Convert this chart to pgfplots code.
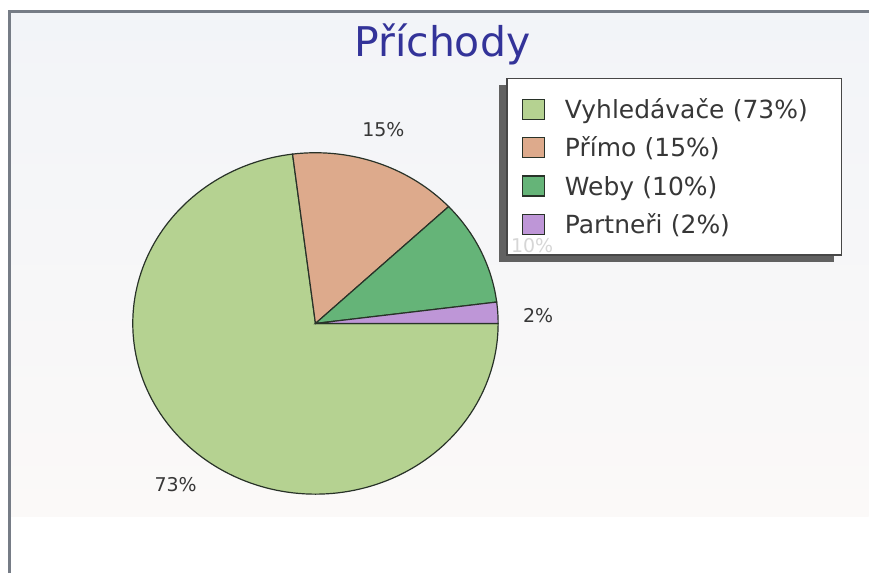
\documentclass[border=0pt]{standalone}
\usepackage{fontspec}
\setmainfont{DejaVu Sans}
\usepackage{pgfplots}
\pgfplotsset{compat=1.18}
\definecolor{cVy}{RGB}{181,210,145}
\definecolor{cPr}{RGB}{221,170,140}
\definecolor{cWe}{RGB}{101,180,120}
\definecolor{cPa}{RGB}{190,150,215}
\definecolor{edge}{RGB}{40,50,40}
\definecolor{titleblue}{RGB}{51,51,153}
\definecolor{frameC}{RGB}{118,124,134}
\definecolor{bgTop}{RGB}{242,244,248}
\definecolor{bgMid}{RGB}{247,247,247}
\definecolor{bgBot}{RGB}{251,249,248}
\definecolor{txt}{RGB}{55,55,55}
\begin{document}
\begin{tikzpicture}
% slice values (percent)
\def\vA{73}\def\vB{15}\def\vC{10}\def\vD{2}
\pgfmathsetmacro{\aD}{3.6*\vD}
\pgfmathsetmacro{\aC}{\aD+3.6*\vC}
\pgfmathsetmacro{\aB}{\aC+3.6*\vB}
\begin{axis}[
  width=870bp, height=574bp, scale only axis,
  xmin=0, xmax=870, ymin=0, ymax=574, y dir=reverse,
  hide axis, clip=false,
  legend image code/.code={\draw[#1] (0bp,-10bp) rectangle (22bp,10bp);},
  legend cell align=left,
  legend style={at={(axis cs:507,78)}, anchor=north west,
    draw=black!72, line width=1.5bp, fill=white,
    inner xsep=15bp, inner ysep=20bp, row sep=16.3bp, column sep=20bp,
    font=\fontsize{25bp}{30bp}\selectfont, text=txt,
    nodes={inner sep=0bp, text height=20bp, text depth=2bp, text width=262bp}},
]
\fill[white] (axis cs:0,0) rectangle (axis cs:870,574);
\shade[top color=bgTop, middle color=bgMid, bottom color=bgBot] (axis cs:10,12) rectangle (axis cs:870,517);
\draw[frameC, line width=3bp] (axis cs:10,574) -- (axis cs:10,12) -- (axis cs:870,12);

\addplot[fill=cVy, draw=edge, line width=1.2bp, domain=\aB:360, samples=150, variable=\t]
  ({316+183*cos(\t)},{324-171*sin(\t)}) -- (axis cs:316,324) -- cycle;
\addlegendentry{Vyhledávače (73\%)}
\addplot[fill=cPr, draw=edge, line width=1.2bp, domain=\aC:\aB, samples=40, variable=\t]
  ({316+183*cos(\t)},{324-171*sin(\t)}) -- (axis cs:316,324) -- cycle;
\addlegendentry{Přímo (15\%)}
\addplot[fill=cWe, draw=edge, line width=1.2bp, domain=\aD:\aC, samples=30, variable=\t]
  ({316+183*cos(\t)},{324-171*sin(\t)}) -- (axis cs:316,324) -- cycle;
\addlegendentry{Weby (10\%)}
\addplot[fill=cPa, draw=edge, line width=1.2bp, domain=0:\aD, samples=10, variable=\t]
  ({316+183*cos(\t)},{324-171*sin(\t)}) -- (axis cs:316,324) -- cycle;
\addlegendentry{Partneři (2\%)}

\node[text=titleblue, font=\fontsize{41bp}{48bp}\selectfont, anchor=base] at (axis cs:443,57) {Příchody};
\node[text=txt, font=\fontsize{19bp}{23bp}\selectfont] at (axis cs:384,130) {15\%};
\node[text=txt, font=\fontsize{19bp}{23bp}\selectfont] at (axis cs:539,316) {2\%};
\node[text=txt, font=\fontsize{19bp}{23bp}\selectfont] at (axis cs:176,485) {73\%};
% legend shadow (drawn beneath the legend box)
\fill[black!62] (axis cs:500,85) rectangle (axis cs:835,262);
\coordinate (p10) at (axis cs:533,246);
\end{axis}
\node[text=black!16, font=\fontsize{19bp}{23bp}\selectfont] at (p10) {10\%};
\end{tikzpicture}
\end{document}
